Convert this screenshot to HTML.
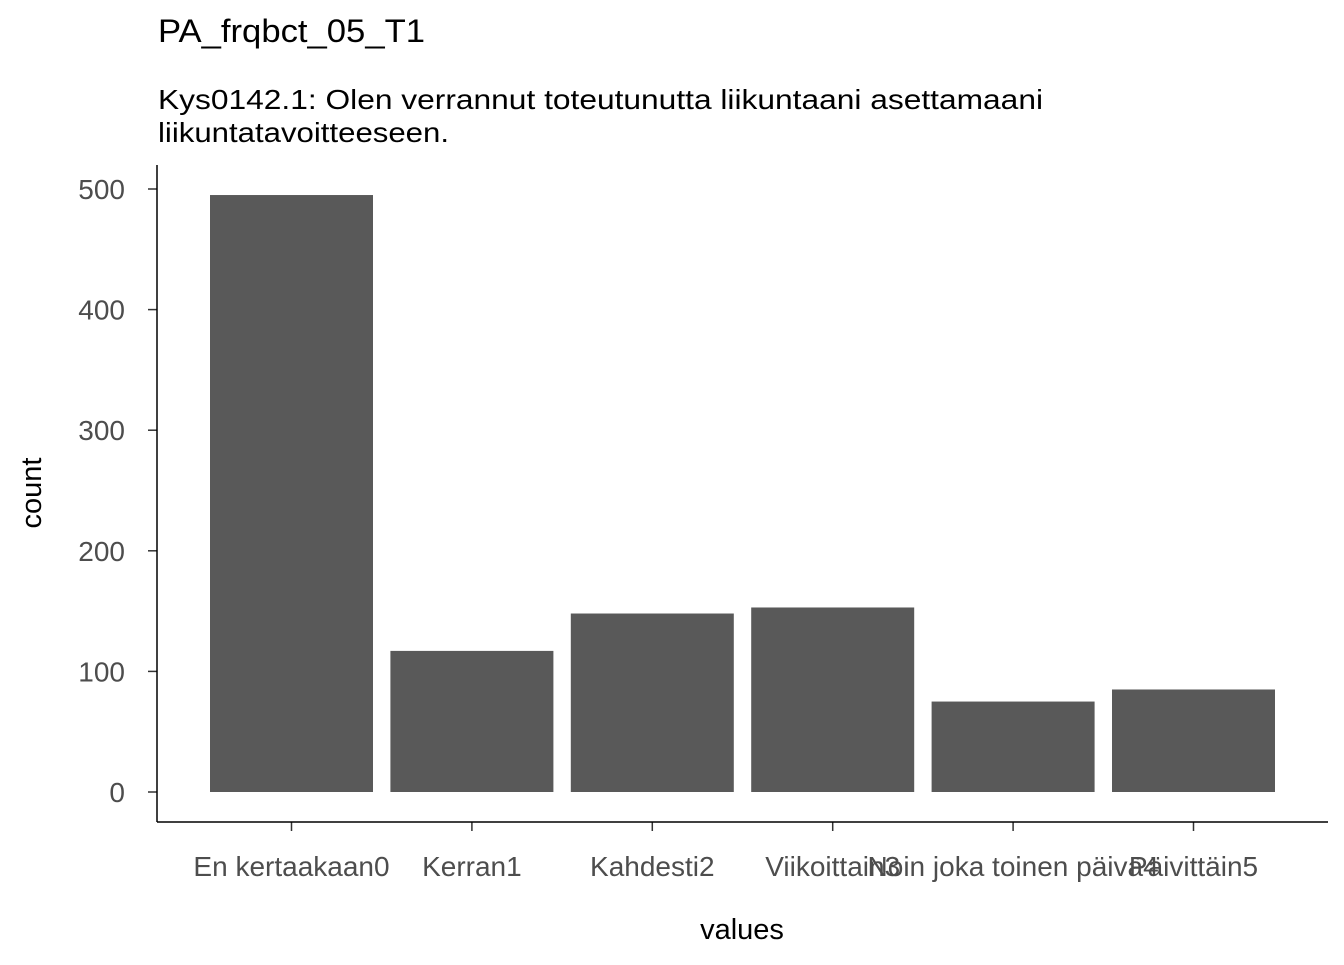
<!DOCTYPE html>
<html><head><meta charset="utf-8"><style>
body{margin:0;background:#fff;font-family:"Liberation Sans",sans-serif}
svg text{font-family:"Liberation Sans",sans-serif}
</style></head><body>
<svg width="1344" height="960">
<text x="158" y="42" font-size="32" textLength="267" lengthAdjust="spacingAndGlyphs" fill="#000">PA_frqbct_05_T1</text>
<text x="158" y="109" font-size="28" textLength="885" lengthAdjust="spacingAndGlyphs" fill="#000">Kys0142.1: Olen verrannut toteutunutta liikuntaani asettamaani</text>
<text x="158" y="142" font-size="28" textLength="291" lengthAdjust="spacingAndGlyphs" fill="#000">liikuntatavoitteeseen.</text>
<g id="plot"></g>
<line x1="157" y1="165" x2="157" y2="822" stroke="#000" stroke-width="1.5"/>
<line x1="157" y1="822" x2="1328" y2="822" stroke="#000" stroke-width="1.5"/>
<text x="742" y="939" font-size="29" text-anchor="middle" fill="#000">values</text>
<text transform="translate(41,493) rotate(-90)" font-size="29" text-anchor="middle" fill="#000">count</text>
</svg>
<script>
const categories=["En kertaakaan0","Kerran1","Kahdesti2","Viikoittain3","Noin joka toinen päivä4","Päivittäin5"];
const counts=[495,117,148,153,75,85];
const yTicks=[0,100,200,300,400,500];
const ns="http://www.w3.org/2000/svg";
const g=document.getElementById("plot");
const y=v=>792-v*1.206;
const step=180.4,x0=291.5,bw=163;
const x=i=>x0+i*step;
function mk(t,a){const e=document.createElementNS(ns,t);for(const k in a)e.setAttribute(k,a[k]);g.appendChild(e);return e;}
yTicks.forEach(v=>{
 const l=mk("line",{x1:148,x2:157,y1:y(v),y2:y(v),stroke:"#333","stroke-width":1.5});
 
 
 const t=mk("text",{x:125,y:y(v)+10,"font-size":28,"text-anchor":"end",fill:"#4d4d4d"});
 t.textContent=v;
 
 
});
categories.forEach((c,i)=>{
 const r=mk("rect",{x:x(i)-bw/2,y:y(counts[i]),width:bw,height:y(0)-y(counts[i]),fill:"#595959"});
 
 
 const l=mk("line",{x1:x(i),x2:x(i),y1:822,y2:831,stroke:"#333","stroke-width":1.5});
 
 
 const t=mk("text",{x:x(i),y:876,"font-size":28,"text-anchor":"middle",fill:"#4d4d4d"});
 t.textContent=c;
 
 
});
</script>
</body></html>
